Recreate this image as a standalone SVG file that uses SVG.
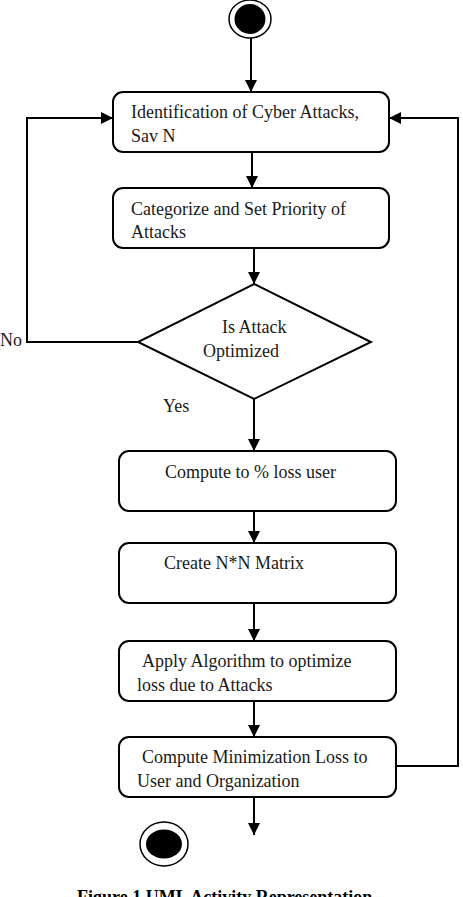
<svg xmlns="http://www.w3.org/2000/svg" width="463" height="897" viewBox="0 0 463 897">
<style>
.box{fill:#fff;stroke:#000;stroke-width:2}
.t{font-family:"Liberation Serif","Times New Roman",serif;font-size:18px;fill:#1a1a1a}
.ln{fill:none;stroke:#000;stroke-width:2}
.cap{font-family:"Liberation Serif","Times New Roman",serif;font-size:18px;font-weight:bold;fill:#000}
</style>
<defs>
<marker id="ah" markerUnits="userSpaceOnUse" markerWidth="12" markerHeight="12" refX="12" refY="6" orient="auto">
<path d="M0,0 L12,6 L0,12 z" fill="#000"/>
</marker>
</defs>
<rect width="463" height="897" fill="#fff"/>
<g id="start">
<ellipse cx="250" cy="19" rx="21" ry="19" fill="#fff" stroke="#000" stroke-width="1.5"/>
<ellipse cx="250" cy="19" rx="15.5" ry="15" fill="#000"/>
</g>
<g id="n1">
<rect class="box" x="113" y="92" width="276" height="60" rx="10"/>
<text class="t" x="131" y="118">Identification of Cyber Attacks,</text>
<text class="t" x="131" y="142">Sav N</text>
</g>
<g id="n2">
<rect class="box" x="113" y="188" width="276" height="60" rx="10"/>
<text class="t" x="131" y="215">Categorize and Set Priority of</text>
<text class="t" x="131" y="238">Attacks</text>
</g>
<g id="decision">
<polygon class="box" points="254,284 371,342 254,399 138,342"/>
<text class="t" x="222" y="333">Is Attack</text>
<text class="t" x="203" y="357">Optimized</text>
</g>
<g id="n3">
<rect class="box" x="119" y="451" width="277" height="60" rx="10"/>
<text class="t" x="165" y="478">Compute to % loss user</text>
</g>
<g id="n4">
<rect class="box" x="119" y="543" width="277" height="60" rx="10"/>
<text class="t" x="164" y="569">Create N*N Matrix</text>
</g>
<g id="n5">
<rect class="box" x="119" y="641" width="277" height="60" rx="10"/>
<text class="t" x="142" y="667">Apply Algorithm to optimize</text>
<text class="t" x="137" y="691">loss due to Attacks</text>
</g>
<g id="n6">
<rect class="box" x="119" y="737" width="277" height="60" rx="10"/>
<text class="t" x="142" y="763">Compute Minimization Loss to</text>
<text class="t" x="137" y="787">User and Organization</text>
</g>
<g id="end">
<ellipse cx="164" cy="844" rx="24" ry="22" fill="#fff" stroke="#000" stroke-width="1.5"/>
<ellipse cx="164" cy="844" rx="18" ry="14.5" fill="#000"/>
</g>
<g id="connectors">
<line class="ln" x1="251" y1="38" x2="251" y2="92" marker-end="url(#ah)"/>
<line class="ln" x1="252" y1="152" x2="252" y2="188" marker-end="url(#ah)"/>
<line class="ln" x1="254" y1="248" x2="254" y2="284" marker-end="url(#ah)"/>
<polyline class="ln" points="138,342 27,342 27,118 113,118" marker-end="url(#ah)"/>
<line class="ln" x1="254" y1="399" x2="254" y2="451" marker-end="url(#ah)"/>
<line class="ln" x1="254" y1="511" x2="254" y2="543" marker-end="url(#ah)"/>
<line class="ln" x1="254" y1="603" x2="254" y2="641" marker-end="url(#ah)"/>
<line class="ln" x1="254" y1="701" x2="254" y2="737" marker-end="url(#ah)"/>
<polyline class="ln" points="396,766 458,766 458,118 389,118" marker-end="url(#ah)"/>
<line class="ln" x1="254" y1="797" x2="254" y2="835" marker-end="url(#ah)"/>
<text class="t" x="0" y="346">No</text>
<text class="t" x="163" y="412">Yes</text>
</g>
<text class="cap" x="77" y="903">Figure 1 UML Activity Representation</text>
</svg>
